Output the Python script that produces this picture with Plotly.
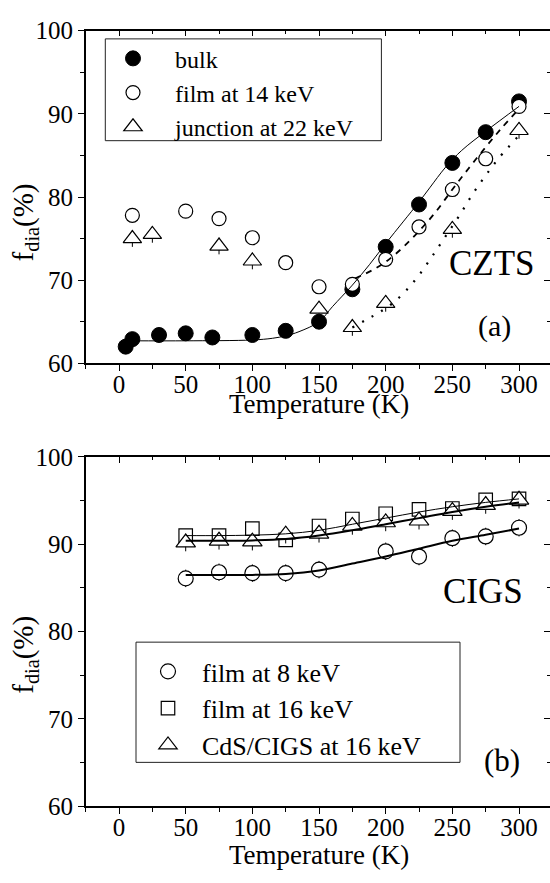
import plotly.graph_objects as go

# ---------------- Panel (a): CZTS ----------------
T_bulk = [5, 10, 30, 50, 70, 100, 125, 150, 175, 200, 225, 250, 275, 300]
f_bulk = [62.0, 62.9, 63.4, 63.6, 63.1, 63.4, 63.9, 65.0, 68.9, 74.0, 79.1, 84.1, 87.8, 91.5]

T_film14 = [10, 50, 75, 100, 125, 150, 175, 200, 225, 250, 275, 300]
f_film14 = [77.8, 78.3, 77.4, 75.1, 72.1, 69.2, 69.5, 72.5, 76.4, 80.9, 84.6, 90.9]

T_junc22 = [10, 25, 75, 100, 150, 175, 200, 250, 300]
f_junc22 = [75.0, 75.5, 74.1, 72.3, 66.5, 64.3, 67.2, 76.1, 88.0]

# fitted curves
fit_bulk_T = [10, 50, 100, 115, 125, 135, 150, 160, 175, 188, 200, 213, 225, 233, 245, 257, 275, 300]
fit_bulk_f = [62.7, 62.7, 62.8, 63.0, 63.3, 63.8, 65.0, 66.8, 69.4, 71.9, 74.4, 77.0, 79.4, 81.1, 83.6, 85.6, 87.9, 90.9]

fit_film14_T = [177, 190, 200, 212, 225, 237, 250, 262, 275, 287, 300]
fit_film14_f = [70.2, 71.2, 72.2, 73.8, 75.9, 78.1, 80.9, 83.4, 86.0, 88.3, 90.6]

fit_junc22_T = [175, 185, 195, 205, 215, 225, 235, 245, 255, 265, 275, 285, 300]
fit_junc22_f = [64.3, 65.2, 66.1, 67.2, 68.7, 70.6, 72.9, 75.3, 77.7, 80.3, 82.6, 84.7, 87.4]

# ---------------- Panel (b): CIGS ----------------
T_film8 = [50, 75, 100, 125, 150, 200, 225, 250, 275, 300]
f_film8 = [86.1, 86.8, 86.7, 86.7, 87.1, 89.2, 88.6, 90.7, 90.9, 91.9]

T_film16 = [50, 75, 100, 125, 150, 175, 200, 225, 250, 275, 300]
f_film16 = [91.0, 91.0, 91.8, 90.5, 92.1, 92.9, 93.5, 94.0, 94.1, 95.1, 95.2]

T_cds16 = [50, 75, 100, 125, 150, 175, 200, 225, 250, 275, 300]
f_cds16 = [90.2, 90.4, 90.3, 91.1, 91.2, 92.1, 92.5, 92.7, 93.8, 94.5, 95.1]

fit_T_b = [50, 75, 100, 125, 150, 175, 200, 225, 250, 275, 300]
fit_film8_f = [86.5, 86.5, 86.5, 86.6, 87.0, 87.8, 88.6, 89.5, 90.4, 91.1, 91.8]
fit_film16_f = [91.0, 91.0, 91.05, 91.2, 91.6, 92.3, 93.0, 93.7, 94.3, 94.8, 95.2]
fit_cds16_f = [90.4, 90.4, 90.45, 90.6, 91.0, 91.6, 92.3, 93.0, 93.7, 94.3, 94.8]

x_ticks = [0, 50, 100, 150, 200, 250, 300]
y_ticks = [60, 70, 80, 90, 100]

FONT = "Liberation Serif, Times New Roman, serif"
W, H = 550, 883

fig = go.Figure()

mk_line = dict(color="black", width=1.2)
err_tri = dict(type="constant", value=1.0, thickness=1, width=0, color="black")

# panel (a) markers
fig.add_trace(go.Scatter(x=T_bulk, y=f_bulk, mode="markers", name="bulk",
                         marker=dict(symbol="circle", size=15, color="black", line=dict(color="black", width=1)),
                         xaxis="x", yaxis="y", legend="legend"))
fig.add_trace(go.Scatter(x=T_film14, y=f_film14, mode="markers", name="film at 14 keV",
                         marker=dict(symbol="circle", size=14, color="white", line=mk_line),
                         xaxis="x", yaxis="y", legend="legend"))
fig.add_trace(go.Scatter(x=T_junc22, y=f_junc22, mode="markers", name="junction at 22 keV",
                         marker=dict(symbol="triangle-up", size=16, color="white", line=mk_line),
                         error_y=err_tri, xaxis="x", yaxis="y", legend="legend"))
# panel (a) fits
fig.add_trace(go.Scatter(x=fit_bulk_T, y=fit_bulk_f, mode="lines", line=dict(color="black", width=1, shape="spline"),
                         showlegend=False, xaxis="x", yaxis="y"))
fig.add_trace(go.Scatter(x=fit_film14_T, y=fit_film14_f, mode="lines",
                         line=dict(color="black", width=1.8, dash="6px,6px", shape="spline"),
                         showlegend=False, xaxis="x", yaxis="y"))
fig.add_trace(go.Scatter(x=fit_junc22_T, y=fit_junc22_f, mode="lines",
                         line=dict(color="black", width=2.2, dash="2px,9px", shape="spline"),
                         showlegend=False, xaxis="x", yaxis="y"))

# panel (b) markers
err_b = dict(type="constant", value=1.0, thickness=1, width=0, color="black")
fig.add_trace(go.Scatter(x=T_film8, y=f_film8, mode="markers", name="film at 8 keV",
                         marker=dict(symbol="circle", size=15, color="white", line=mk_line),
                         error_y=err_b, xaxis="x2", yaxis="y2", legend="legend2"))
fig.add_trace(go.Scatter(x=T_film16, y=f_film16, mode="markers", name="film at 16 keV",
                         marker=dict(symbol="square", size=13.5, color="white", line=mk_line),
                         xaxis="x2", yaxis="y2", legend="legend2"))
fig.add_trace(go.Scatter(x=T_cds16, y=f_cds16, mode="markers", name="CdS/CIGS at 16 keV",
                         marker=dict(symbol="triangle-up", size=17, color="white", line=mk_line),
                         error_y=err_b, xaxis="x2", yaxis="y2", legend="legend2"))
# panel (b) fits
fig.add_trace(go.Scatter(x=fit_T_b, y=fit_film8_f, mode="lines", line=dict(color="black", width=2, shape="spline"),
                         showlegend=False, xaxis="x2", yaxis="y2"))
fig.add_trace(go.Scatter(x=fit_T_b, y=fit_film16_f, mode="lines", line=dict(color="black", width=1, shape="spline"),
                         showlegend=False, xaxis="x2", yaxis="y2"))
fig.add_trace(go.Scatter(x=fit_T_b, y=fit_cds16_f, mode="lines", line=dict(color="black", width=2, shape="spline"),
                         showlegend=False, xaxis="x2", yaxis="y2"))

# helper traces so the mirrored (top / right) tick axes get drawn
for xa, ya in [("x3", "y"), ("x", "y3"), ("x4", "y2"), ("x2", "y4")]:
    fig.add_trace(go.Scatter(x=[None], y=[None], mode="markers", showlegend=False,
                             hoverinfo="skip", xaxis=xa, yaxis=ya))

x_left = 85.7
x_dom = [x_left / W, 1.0]
xr = [-25, -25 + (W - x_left) / 1.3333]
ya_dom = [1 - 361.3 / H, 1 - 18.3 / H]
yb_dom = [1 - 818.3 / H, 1 - 458.0 / H]

tickfont = dict(family=FONT, size=25, color="black")


def xaxis_main(anchor):
    return dict(domain=x_dom, range=xr, anchor=anchor, tickmode="array", tickvals=x_ticks,
                ticks="outside", ticklen=6, tickwidth=1.2, tickcolor="black",
                minor=dict(dtick=25, tick0=0, ticks="outside", ticklen=3.5, tickwidth=1.2, tickcolor="black"),
                showline=True, linecolor="black", linewidth=1.5, showgrid=False, zeroline=False,
                tickfont=tickfont, ticklabelstandoff=-8)


def yaxis_main(dom, anchor):
    return dict(domain=dom, range=[60, 100], anchor=anchor, tickmode="array", tickvals=y_ticks,
                ticks="outside", ticklen=6, tickwidth=1.2, tickcolor="black",
                minor=dict(dtick=5, tick0=60, ticks="outside", ticklen=3.5, tickwidth=1.2, tickcolor="black"),
                showline=True, linecolor="black", linewidth=1.5, showgrid=False, zeroline=False,
                tickfont=tickfont)


def xaxis_top(over, anchor):
    return dict(overlaying=over, side="top", anchor=anchor, range=xr, tickmode="array", tickvals=x_ticks,
                ticks="inside", ticklen=6, tickwidth=1.2, tickcolor="black",
                minor=dict(dtick=25, tick0=0, ticks="inside", ticklen=3.5, tickwidth=1.2, tickcolor="black"),
                showline=True, linecolor="black", linewidth=1.5, showgrid=False, zeroline=False,
                showticklabels=False)


def yaxis_right(over, anchor):
    return dict(overlaying=over, side="right", anchor=anchor, range=[60, 100], tickmode="array", tickvals=y_ticks,
                ticks="inside", ticklen=6, tickwidth=1.2, tickcolor="black",
                minor=dict(dtick=5, tick0=60, ticks="inside", ticklen=3.5, tickwidth=1.2, tickcolor="black"),
                showline=False, showgrid=False, zeroline=False, showticklabels=False)


annots = []
for yc in [403.0, 869.0]:
    annots.append(dict(text="Temperature (K)", x=318.5 / W, y=1 - yc / H, xref="paper", yref="paper",
                       xanchor="center", yanchor="middle", showarrow=False,
                       font=dict(family=FONT, size=27, color="black")))
for yc in [216.0, 662.0]:
    annots.append(dict(text="f<sub>dia</sub>(%)", x=25 / W, y=1 - yc / H, xref="paper", yref="paper",
                       xanchor="center", yanchor="middle", textangle=-90, showarrow=False,
                       font=dict(family=FONT, size=29, color="black")))
annots += [
    dict(text="CZTS", x=279.8, y=72.05, xref="x", yref="y", showarrow=False,
         xanchor="center", yanchor="middle", font=dict(family=FONT, size=35, color="black")),
    dict(text="(a)", x=281.6, y=64.5, xref="x", yref="y", showarrow=False,
         xanchor="center", yanchor="middle", font=dict(family=FONT, size=30, color="black")),
    dict(text="CIGS", x=272.7, y=84.6, xref="x2", yref="y2", showarrow=False,
         xanchor="center", yanchor="middle", font=dict(family=FONT, size=35, color="black")),
    dict(text="(b)", x=287.0, y=65.2, xref="x2", yref="y2", showarrow=False,
         xanchor="center", yanchor="middle", font=dict(family=FONT, size=31, color="black")),
]

# legend frames
shapes = [
    dict(type="rect", xref="paper", yref="paper", x0=105.3 / W, x1=381.4 / W,
         y0=1 - 131.7 / H, y1=1 - 26.7 / H, line=dict(color="#222", width=1), fillcolor="rgba(0,0,0,0)"),
    dict(type="rect", xref="paper", yref="paper", x0=136 / W, x1=460 / W,
         y0=1 - 773 / H, y1=1 - 649 / H, line=dict(color="#222", width=1), fillcolor="rgba(0,0,0,0)"),
]

fig.update_layout(
    width=W, height=H, autosize=False,
    margin=dict(l=0, r=0, t=0, b=0, pad=0),
    paper_bgcolor="white", plot_bgcolor="white",
    font=dict(family=FONT, color="black"),
    xaxis=xaxis_main("y"), yaxis=yaxis_main(ya_dom, "x"),
    xaxis2=xaxis_main("y2"), yaxis2=yaxis_main(yb_dom, "x2"),
    xaxis3=xaxis_top("x", "y"), yaxis3=yaxis_right("y", "x"),
    xaxis4=xaxis_top("x2", "y2"), yaxis4=yaxis_right("y2", "x2"),
    legend=dict(x=91 / W, y=1 - 24 / H, xanchor="left", yanchor="top",
                borderwidth=0, bgcolor="rgba(0,0,0,0)",
                font=dict(family=FONT, size=24, color="black"), itemwidth=74,
                tracegroupgap=0),
    legend2=dict(x=134 / W, y=1 - 655 / H, xanchor="left", yanchor="top",
                 borderwidth=0, bgcolor="rgba(0,0,0,0)",
                 font=dict(family=FONT, size=26, color="black"), itemwidth=58,
                 tracegroupgap=0),
    annotations=annots,
    shapes=shapes,
    showlegend=True,
)

fig.write_html("out.html")
